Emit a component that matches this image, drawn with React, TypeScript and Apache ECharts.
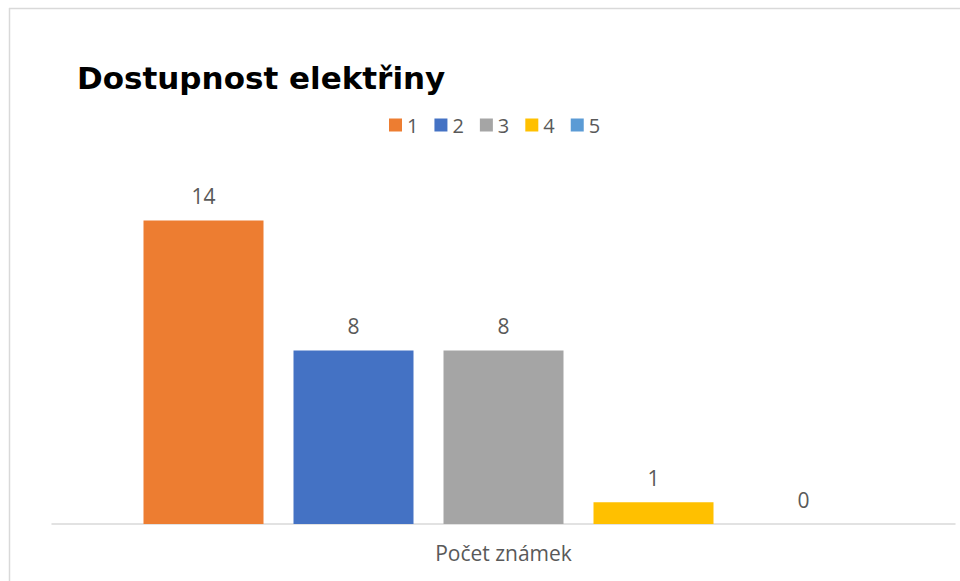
import React, { useEffect, useRef } from "react";
import * as echarts from "echarts";

const categories = ["Počet známek"];
const seriesNames = ["1", "2", "3", "4", "5"];
const seriesValues = [14, 8, 8, 1, 0];
const colors = ["#ED7D31", "#4472C4", "#A5A5A5", "#FFC000", "#5B9BD5"];
const titleText = "Dostupnost elektřiny";

export default function App() {
  const ref = useRef<HTMLDivElement>(null);
  useEffect(() => {
    if (!ref.current) return;
    const chart = echarts.init(ref.current, null, { renderer: "svg" });
    chart.setOption({
      animation: false,
      backgroundColor: "#ffffff",
      title: {
        text: titleText,
        left: 72,
        top: 57,
        textStyle: { fontFamily: "DejaVu Sans", fontWeight: "bold", fontSize: 31, color: "#000000" },
      },
      legend: {
        data: seriesNames,
        top: 110,
        left: 384,
        itemWidth: 13,
        itemHeight: 13,
        itemGap: 16,
        icon: "rect",
        textStyle: { fontFamily: "Open Sans", fontSize: 20, color: "#595959", padding: [0, 0, 0, 0] },
      },
      grid: { left: 52, right: 5, top: 177, bottom: 57 },
      xAxis: {
        type: "category",
        data: categories,
        axisTick: { show: false },
        axisLine: { lineStyle: { color: "#d9d9d9", width: 1.5 } },
        axisLabel: { fontFamily: "Open Sans", fontSize: 21, color: "#595959", margin: 18 },
      },
      yAxis: { type: "value", min: 0, max: 16, show: false, splitLine: { show: false } },
      graphic: [
        { type: "line", shape: { x1: 9, y1: 8.5, x2: 960, y2: 8.5 }, style: { stroke: "#d9d9d9", lineWidth: 1.5 } },
        { type: "line", shape: { x1: 9.5, y1: 8, x2: 9.5, y2: 581 }, style: { stroke: "#d9d9d9", lineWidth: 1.5 } },
      ],
      series: seriesNames.map((name, i) => ({
        name,
        type: "bar",
        data: [seriesValues[i]],
        barWidth: 120,
        barGap: "25%",
        itemStyle: { color: colors[i] },
        label: {
          show: true,
          position: "top",
          distance: 14,
          fontFamily: "Open Sans",
          fontSize: 21,
          color: "#595959",
        },
      })),
    });
    return () => chart.dispose();
  }, []);
  return <div ref={ref} style={{ position: "fixed", left: 0, top: 0, width: 960, height: 581 }} />;
}
